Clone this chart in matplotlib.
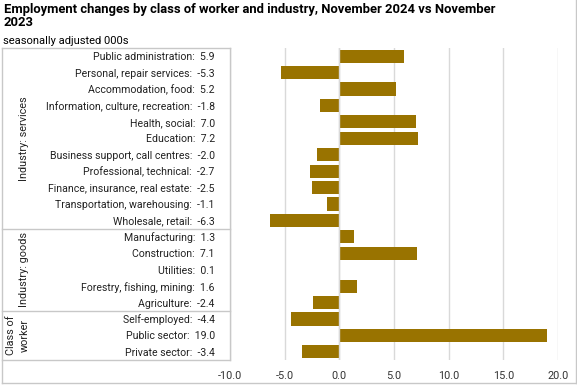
import matplotlib.pyplot as plt
from matplotlib.lines import Line2D
from matplotlib.transforms import blended_transform_factory

# top to bottom as in the picture
categories = [
    "Public administration", "Personal, repair services", "Accommodation, food",
    "Information, culture, recreation", "Health, social", "Education",
    "Business support, call centres", "Professional, technical",
    "Finance, insurance, real estate", "Transportation, warehousing",
    "Wholesale, retail", "Manufacturing", "Construction", "Utilities",
    "Forestry, fishing, mining", "Agriculture", "Self-employed",
    "Public sector", "Private sector",
]
values = [5.9, -5.3, 5.2, -1.8, 7.0, 7.2, -2.0, -2.7, -2.5, -1.1, -6.3,
          1.3, 7.1, 0.1, 1.6, -2.4, -4.4, 19.0, -3.4]
groups = ["Industry: services", "Industry: goods", "Class of\nworker"]
group_sizes = [11, 5, 3]
x_ticks = [-10, -5, 0, 5, 10, 15, 20]

W, H = 577, 385
bar_color = "#997300"
line_color = "#c8c8c8"
plt.rcParams["font.family"] = ["Roboto", "DejaVu Sans"]

fig = plt.figure(figsize=(W / 100, H / 100), dpi=100)
ax = fig.add_axes([230 / W, (H - 360) / H, (558 - 230) / W, 312 / H])

n = len(categories)
ypos = list(range(n))
ax.barh(ypos, values, height=0.8, color=bar_color, zorder=3)
ax.set_ylim(n - 0.5, -0.5)
ax.set_xlim(-10, 20)
ax.set_xticks(x_ticks)
ax.set_xticklabels([f"{t:.1f}" for t in x_ticks], fontsize=7.8, color="#333333")
ax.tick_params(axis="x", length=0, pad=8)
ax.set_yticks(ypos)
ax.set_yticklabels([f"{c}:  {v:.1f}" for c, v in zip(categories, values)],
                   fontsize=7.6, color="#222222")
ax.tick_params(axis="y", length=0, pad=11)
ax.grid(axis="x", color="#d9d9d9", linewidth=1, zorder=0)
ax.axvline(0, color="#d9d9d9", linewidth=1, zorder=4)
for s in ax.spines.values():
    s.set_visible(False)

# label table on the left
tr = blended_transform_factory(fig.transFigure, ax.transData)
x0, x1 = 2 / W, 230 / W
for y in (-0.5, n - 0.5):
    fig.add_artist(Line2D([x0, x1], [y, y], transform=tr, color=line_color, lw=1))
fig.add_artist(Line2D([x1, x1], [-0.5, n - 0.5], transform=tr, color=line_color, lw=1))
start = 0
for g, size in zip(groups, group_sizes):
    if start > 0:
        fig.add_artist(Line2D([x0, x1], [start - 0.5, start - 0.5], transform=tr,
                              color=line_color, lw=1))
    mid = start + (size - 1) / 2
    fig.text(18 / W if "\n" in g else 24 / W, mid, g, transform=tr, rotation=90,
             ha="center", va="center", fontsize=7.8, linespacing=1.5, color="#222222")
    start += size

# outer border
fig.add_artist(Line2D([x0, x0], [(H - 48) / H, 2 / H], color=line_color, lw=1))
fig.add_artist(Line2D([x0, 576 / W], [2 / H, 2 / H], color=line_color, lw=1))
fig.add_artist(Line2D([576 / W, 576 / W], [2 / H, 1], color=line_color, lw=1))

fig.text(4 / W, 1 - 3 / H, "Employment changes by class of worker and industry, November 2024 vs November\n2023",
         ha="left", va="top", fontsize=9.4, fontweight="bold", linespacing=1.05)
fig.text(3 / W, 1 - 36 / H, "seasonally adjusted 000s", ha="left", va="top", fontsize=8)

fig.savefig("out.png", dpi=100)
